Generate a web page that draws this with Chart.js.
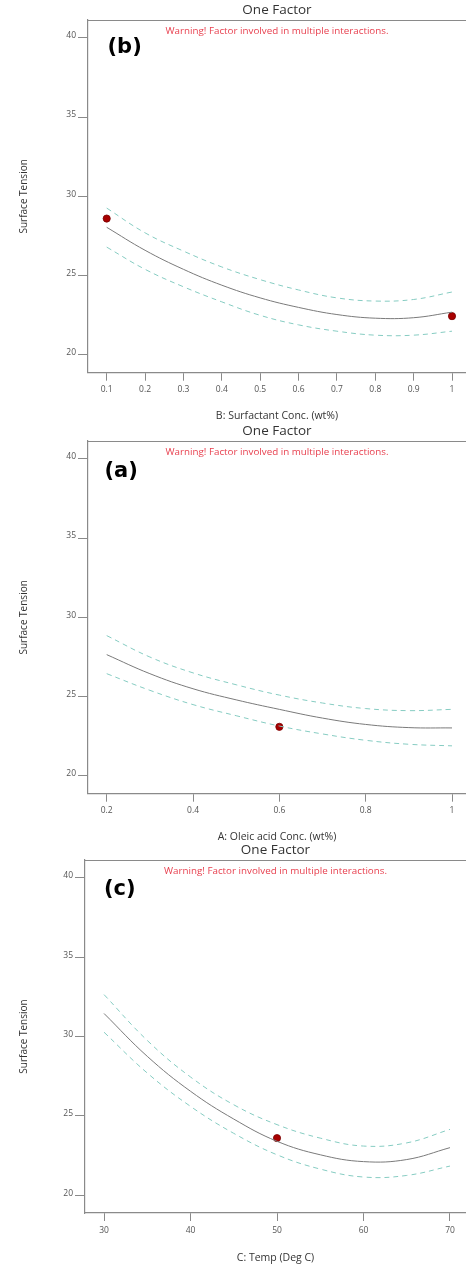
<!DOCTYPE html>
<html>
<head>
<meta charset="utf-8">
<script src="https://cdn.jsdelivr.net/npm/chart.js@4.4.1/dist/chart.umd.min.js"></script>
<style>
  html, body { margin: 0; padding: 0; background: #fff; overflow: hidden; width: 466px; height: 1266px; }
  canvas { position: absolute; left: 0; }
</style>
</head>
<body>
<canvas id="c1" width="466" height="424" style="top:0px"></canvas>
<canvas id="c2" width="466" height="424" style="top:421px"></canvas>
<canvas id="c3" width="466" height="426" style="top:840px"></canvas>
<script>
// ---------- DATA ----------
const yTicks = [20, 25, 30, 35, 40];

// Panel (b): B: Surfactant Conc.
const bX      = [0.1, 0.2, 0.3, 0.4, 0.5, 0.6, 0.7, 0.8, 0.9, 1.0];
const bMean   = [28.05, 26.6, 25.4, 24.4, 23.6, 23.0, 22.55, 22.32, 22.35, 22.7];
const bUpper  = [29.26, 27.7, 26.55, 25.55, 24.75, 24.1, 23.6, 23.4, 23.5, 23.97];
const bLower  = [26.8, 25.4, 24.3, 23.35, 22.5, 21.9, 21.5, 21.25, 21.25, 21.5];
const bPtX    = [0.1, 1.0];
const bPtY    = [28.6, 22.45];
const bTicks  = [0.1, 0.2, 0.3, 0.4, 0.5, 0.6, 0.7, 0.8, 0.9, 1];

// Panel (a): A: Oleic acid Conc.
const aX      = [0.2, 0.3, 0.4, 0.5, 0.6, 0.7, 0.8, 0.9, 1.0];
const aMean   = [27.65, 26.45, 25.5, 24.8, 24.2, 23.65, 23.25, 23.05, 23.03];
const aUpper  = [28.85, 27.5, 26.5, 25.75, 25.1, 24.6, 24.25, 24.12, 24.2];
const aLower  = [26.45, 25.4, 24.5, 23.8, 23.15, 22.65, 22.25, 22.0, 21.9];
const aPtX    = [0.6];
const aPtY    = [23.1];
const aTicks  = [0.2, 0.4, 0.6, 0.8, 1];

// Panel (c): C: Temp
const cX      = [30, 35, 40, 45, 50, 55, 60, 65, 70];
const cMean   = [31.45, 28.75, 26.55, 24.8, 23.4, 22.55, 22.12, 22.25, 23.0];
const cUpper  = [32.64, 29.75, 27.45, 25.7, 24.45, 23.6, 23.1, 23.3, 24.15];
const cLower  = [30.27, 27.7, 25.6, 23.9, 22.55, 21.65, 21.15, 21.25, 21.84];
const cPtX    = [50];
const cPtY    = [23.6];
const cTicks  = [30, 40, 50, 60, 70];

const titleText   = 'One Factor';
const warningText = 'Warning! Factor involved in multiple interactions.';
const yTitle      = 'Surface Tension';

// ---------- STYLE ----------
const FRAME = '#8a8a8a';
const TICKC = '#555';
const FONT  = '"Open Sans", "DejaVu Sans", sans-serif';

const zip = (xs, ys) => xs.map((x, i) => ({ x: x, y: ys[i] }));

const panelText = {
  id: 'panelText',
  afterDraw(chart, args, opts) {
    const { ctx, chartArea } = chart;
    const { left, right, top } = chartArea;
    ctx.save();
    ctx.strokeStyle = FRAME;
    ctx.lineWidth = 1.2;
    ctx.beginPath();
    ctx.moveTo(left, top + 0.5);
    ctx.lineTo(right, top + 0.5);
    ctx.stroke();
    const cx = (left + right) / 2;
    ctx.textAlign = 'center';
    ctx.textBaseline = 'middle';
    ctx.fillStyle = '#333';
    ctx.font = '13.5px ' + FONT;
    ctx.fillText(titleText, cx, opts.titleY);
    ctx.fillStyle = '#e8404f';
    ctx.font = '9.8px ' + FONT;
    ctx.fillText(warningText, cx, top + 11);
    ctx.fillStyle = '#000';
    ctx.textAlign = 'left';
    ctx.font = 'bold 21px "DejaVu Sans", sans-serif';
    ctx.fillText(opts.label, opts.labelX, opts.labelY);
    ctx.restore();
  }
};

function makeChart(id, cfg) {
  const lineDs = (data, dashed) => ({
    data: data,
    borderColor: dashed ? '#86ccc2' : '#7a7a7a',
    borderWidth: 1,
    borderDash: dashed ? [5, 4] : [],
    pointRadius: 0,
    fill: false,
    tension: 0.4
  });
  new Chart(document.getElementById(id), {
    type: 'line',
    data: {
      datasets: [
        lineDs(zip(cfg.x, cfg.upper), true),
        lineDs(zip(cfg.x, cfg.lower), true),
        lineDs(zip(cfg.x, cfg.mean), false),
        {
          data: zip(cfg.ptX, cfg.ptY),
          showLine: false,
          pointRadius: 3.6,
          pointBackgroundColor: '#a80000',
          pointBorderColor: '#7a0000',
          pointBorderWidth: 0.8,
          clip: 6
        }
      ]
    },
    options: {
      responsive: false,
      devicePixelRatio: 1,
      animation: false,
      layout: { autoPadding: false, padding: { top: 20, left: 0, right: 0, bottom: 0 } },
      plugins: {
        legend: { display: false },
        tooltip: { enabled: false },
        panelText: { titleY: 10, label: cfg.label, labelX: cfg.labelX, labelY: cfg.labelY }
      },
      scales: {
        x: {
          type: 'linear',
          min: cfg.xmin,
          max: cfg.xmax,
          afterBuildTicks: s => { s.ticks = cfg.ticks.map(v => ({ value: v })); },
          afterFit: s => { s.height = cfg.xh; s.paddingLeft = 0; s.paddingRight = 0; },
          grid: { display: true, drawOnChartArea: false, drawTicks: true, tickLength: 8, color: FRAME },
          border: { display: true, color: FRAME, width: 1.2 },
          ticks: { color: TICKC, font: { size: 8.5, family: FONT }, padding: 4, maxRotation: 0, autoSkip: false,
                   callback: v => String(v) },
          title: { display: true, text: cfg.xTitle, color: '#333', font: { size: 10.5, family: FONT }, padding: { top: 0, bottom: 2 } }
        },
        y: {
          type: 'linear',
          min: 18.884,
          max: 41.116,
          afterBuildTicks: s => { s.ticks = yTicks.map(v => ({ value: v })); },
          afterFit: s => { s.width = cfg.yw; s.paddingTop = 0; s.paddingBottom = 0; },
          grid: { display: true, drawOnChartArea: false, drawTicks: true, tickLength: 10, color: FRAME },
          border: { display: true, color: FRAME, width: 1.2 },
          ticks: { color: TICKC, font: { size: 8.5, family: FONT }, padding: 2, labelOffset: -2,
                   callback: v => String(v) },
          title: { display: true, text: yTitle, color: '#333', font: { size: 10, family: FONT }, padding: { top: 18, bottom: 0 } }
        }
      }
    },
    plugins: [panelText]
  });
}

makeChart('c1', {
  x: bX, mean: bMean, upper: bUpper, lower: bLower, ptX: bPtX, ptY: bPtY, ticks: bTicks,
  xmin: 0.05126, xmax: 1.03646, yw: 88, xh: 51.3,
  xTitle: 'B: Surfactant Conc. (wt%)', label: '(b)', labelX: 107.5, labelY: 48
});
makeChart('c2', {
  x: aX, mean: aMean, upper: aUpper, lower: aLower, ptX: aPtX, ptY: aPtY, ticks: aTicks,
  xmin: 0.15667, xmax: 1.03243, yw: 88, xh: 51.3,
  xTitle: 'A: Oleic acid Conc. (wt%)', label: '(a)', labelX: 104.5, labelY: 50.5
});
makeChart('c3', {
  x: cX, mean: cMean, upper: cUpper, lower: cLower, ptX: cPtX, ptY: cPtY, ticks: cTicks,
  xmin: 27.80, xmax: 71.85, yw: 85, xh: 53,
  xTitle: 'C: Temp (Deg C)', label: '(c)', labelX: 104, labelY: 50
});
</script>
</body>
</html>
